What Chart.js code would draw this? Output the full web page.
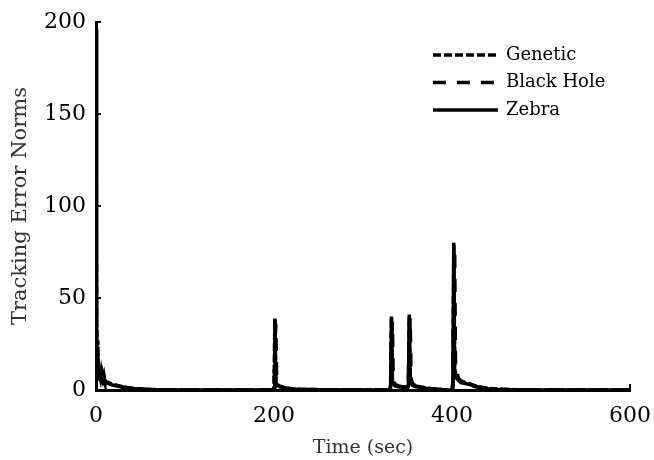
<!DOCTYPE html>
<html>
<head>
<meta charset="utf-8">
<script src="https://cdn.jsdelivr.net/npm/chart.js@4"></script>
<style>
  html, body { margin: 0; padding: 0; background: #fff; }
  #wrap { width: 654px; height: 460px; }
</style>
</head>
<body>
<div id="wrap"><canvas id="errChart" width="654" height="460"></canvas></div>
<script>
// time samples (sec)
const time = [0, 0.5, 1, 1.5, 2, 2.5, 3, 3.5, 4, 5, 6, 7, 8, 9, 10, 12, 14, 17, 20, 25, 30, 35, 40, 45, 50, 60, 80, 100, 150,
  199, 200, 201, 202, 203, 204, 206, 210, 215, 220, 230, 250, 300,
  330, 331, 332, 333, 334, 336, 340, 345, 350, 351, 352, 353, 354, 356, 360, 370, 380, 390,
  400, 401, 402, 403, 404, 406, 408, 410, 415, 420, 425, 430, 440, 450, 470, 500, 550, 600];

const genetic = [200, 60, 20, 8, 27, 12, 6, 9, 5, 10, 7, 9, 6, 8, 5, 4.5, 4, 3.5, 3, 2.4, 1.8, 1.4, 1.1, 0.8, 0.6, 0.3, 0.1, 0, 0,
  0, 2, 39, 6, 3.5, 3, 2.2, 1.5, 1, 0.7, 0.4, 0.2, 0,
  0, 3, 40, 6, 4, 2.5, 2, 1.8, 1.5, 3, 41, 7, 4, 3, 2.2, 1.2, 0.6, 0.2,
  0, 5, 80, 11, 9, 7, 6, 5, 4, 3.5, 2.5, 1.8, 0.9, 0.5, 0.2, 0, 0, 0];

const blackHole = [150, 30, 10, 25, 9, 15, 8, 11, 6, 8, 9, 6, 7, 5, 6, 5, 4, 3.2, 2.8, 2.2, 1.7, 1.3, 1, 0.7, 0.5, 0.3, 0.1, 0, 0,
  0, 1, 20, 36, 6, 3.2, 2, 1.4, 0.9, 0.6, 0.3, 0.1, 0,
  0, 2, 25, 37, 6, 3, 2.2, 1.6, 1.4, 2, 28, 39, 6, 3.2, 2, 1, 0.5, 0.1,
  0, 3, 50, 76, 10, 9, 5, 4.5, 3.8, 3, 2.2, 1.5, 0.8, 0.4, 0.1, 0, 0, 0];

const zebra = [196, 40, 15, 12, 20, 7, 10, 6, 8, 6, 10, 7, 5, 6, 4, 4, 3.5, 3, 2.5, 2, 1.5, 1.1, 0.8, 0.5, 0.4, 0.2, 0, 0, 0,
  0, 1, 38, 5, 3, 2.5, 1.8, 1.2, 0.8, 0.5, 0.3, 0.1, 0,
  0, 1, 39, 5, 3.5, 2.2, 1.8, 1.5, 1.2, 2, 40, 6, 3.5, 2.5, 1.8, 0.9, 0.4, 0.1,
  0, 2, 79, 9, 7, 6, 5, 4, 3.5, 3, 2, 1.4, 0.7, 0.3, 0.1, 0, 0, 0];

const seriesNames = ["Genetic", "Black Hole", "Zebra"];
const xTicks = [0, 200, 400, 600];
const yTicks = [0, 50, 100, 150, 200];

const toPoints = vals => time.map((t, i) => ({ x: t, y: vals[i] }));

// legend drawn inside the plot, top right
const insideLegend = {
  id: "insideLegend",
  afterDraw(chart) {
    const ctx = chart.ctx;
    const x0 = chart.chartArea.right - 197;
    ctx.save();
    chart.data.datasets.forEach((ds, i) => {
      const y = 55 + i * 27.5;
      ctx.strokeStyle = "#000";
      ctx.lineWidth = 3.5;
      ctx.setLineDash(ds.borderDash || []);
      ctx.beginPath();
      ctx.moveTo(x0, y);
      ctx.lineTo(x0 + 65, y);
      ctx.stroke();
      ctx.setLineDash([]);
      ctx.fillStyle = "#000";
      ctx.font = "18px 'DejaVu Serif'";
      ctx.textBaseline = "middle";
      ctx.fillText(ds.label, x0 + 73, y);
    });
    ctx.restore();
  }
};

const lineStyle = { borderColor: "#000", backgroundColor: "#000", borderWidth: 3.5, pointRadius: 0, tension: 0, fill: false };

new Chart(document.getElementById("errChart"), {
  type: "line",
  data: {
    datasets: [
      { ...lineStyle, label: seriesNames[0], data: toPoints(genetic), borderDash: [8, 3] },
      { ...lineStyle, label: seriesNames[1], data: toPoints(blackHole), borderDash: [13, 11] },
      { ...lineStyle, label: seriesNames[2], data: toPoints(zebra) }
    ]
  },
  options: {
    responsive: false,
    animation: false,
    layout: { padding: { left: 0, right: 24, top: 22, bottom: 0 } },
    plugins: { legend: { display: false }, tooltip: { enabled: false } },
    scales: {
      x: {
        type: "linear",
        min: 0, max: 600,
        afterBuildTicks: s => { s.ticks = xTicks.map(v => ({ value: v })); },
        afterFit: s => { s.height = 70; s.paddingLeft = 0; s.paddingRight = 0; },
        grid: { drawOnChartArea: false, drawTicks: true, tickLength: -6, color: "#000", lineWidth: 2 },
        border: { display: true, color: "#000", width: 3 },
        ticks: { color: "#000", padding: 19, font: { family: "DejaVu Serif", size: 22 }, maxRotation: 0 },
        title: { display: true, text: "Time (sec)", color: "#333", padding: { top: 0, bottom: 1 }, font: { family: "DejaVu Serif", size: 19 } }
      },
      y: {
        min: 0, max: 200,
        afterBuildTicks: s => { s.ticks = yTicks.map(v => ({ value: v })); },
        afterFit: s => { s.width = 96; s.paddingTop = 0; s.paddingBottom = 0; },
        grid: { drawOnChartArea: false, drawTicks: true, tickLength: -5, color: "#000", lineWidth: 2 },
        border: { display: true, color: "#000", width: 3 },
        ticks: { color: "#000", padding: 15, font: { family: "DejaVu Serif", size: 22 } },
        title: { display: true, text: "Tracking Error Norms", color: "#333", padding: { top: 8, bottom: 0 }, font: { family: "DejaVu Serif", size: 21 } }
      }
    }
  },
  plugins: [insideLegend]
});
</script>
</body>
</html>
